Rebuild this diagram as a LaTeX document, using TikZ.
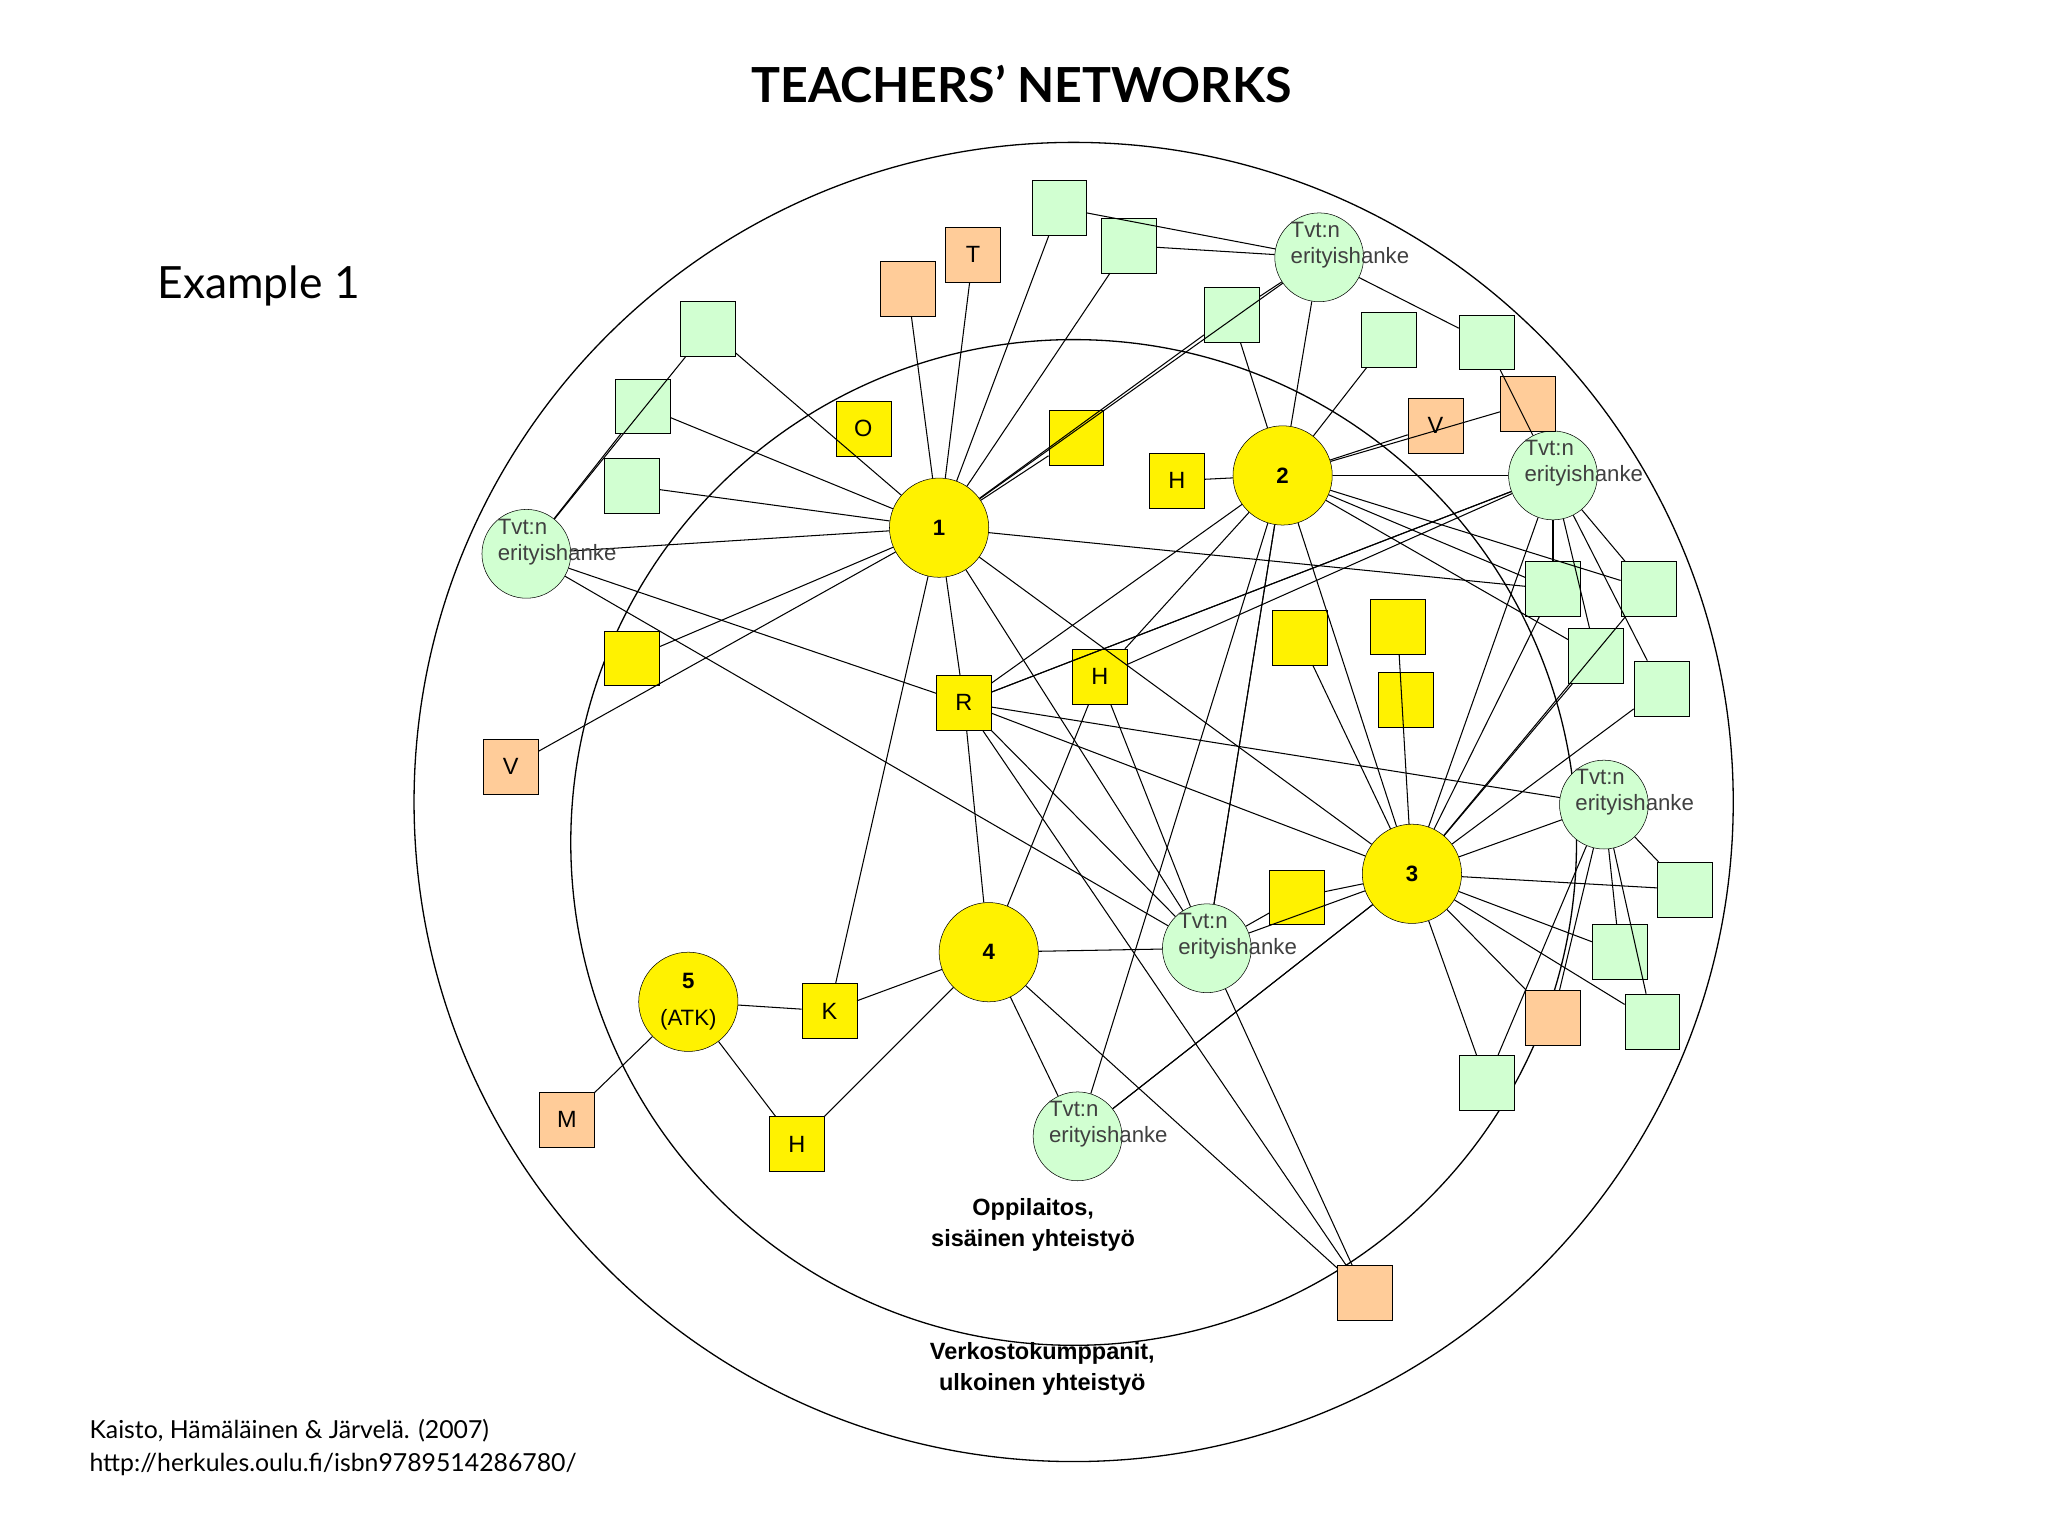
\documentclass[tikz,border=0pt]{standalone}
\usepackage{fontspec}
\setmainfont{Liberation Sans}
\newfontfamily\gill{Lato}
\begin{document}
\begin{tikzpicture}[x=1pt,y=-1pt,
 big/.style={circle,draw=black,fill=yellow,minimum size=76pt,inner sep=0pt,font=\fontsize{17}{19}\selectfont\bfseries},
 gc/.style={circle,draw=black,fill=green!18,minimum size=68pt,inner sep=0pt},
 sq/.style={rectangle,draw=black,minimum size=42pt,inner sep=0pt,font=\fontsize{18}{20}\selectfont},
 gs/.style={sq,fill=green!18},
 os/.style={sq,fill=orange!40},
 ys/.style={sq,fill=yellow},
 lab/.style={anchor=north west,align=left,inner sep=0pt,font=\fontsize{17}{20}\selectfont,text=black!75},
 ed/.style={draw=black,line width=0.8pt}]
\useasboundingbox (0,0) rectangle (1568,1176);
\fill[white] (0,0) rectangle (1568,1176);
\draw[line width=1pt] (822,614) circle (505);
\draw[line width=1pt] (822,645) circle (385);
\node[font=\gill\fontsize{37}{40}\selectfont\bfseries] at (782,64) {TEACHERS’ NETWORKS};
\node[anchor=west,font=\gill\fontsize{34}{36}\selectfont] at (117,219) {Example 1};
\node[anchor=north west,align=left,font=\gill\fontsize{19}{25}\selectfont] at (65,1083) {Kaisto, Hämäläinen \& Järvelä. (2007)\\http://herkules.oulu.fi/isbn9789514286780/};
\node[align=center,font=\fontsize{18}{24}\selectfont\bfseries] at (791,938) {Oppilaitos,\\sisäinen yhteistyö};
\node[align=center,font=\fontsize{18}{24}\selectfont\bfseries] at (798,1048) {Verkostokumppanit,\\ulkoinen yhteistyö};
% green circles
\node[gc] (g1) at (1010,197) {}; \node[gc] (g2) at (1189,364) {}; \node[gc] (g3) at (403,424) {};
\node[gc] (g4) at (1228,616) {}; \node[gc] (g5) at (924,726) {}; \node[gc] (g6) at (825,870) {};
% big
\node[big] (n1) at (719,404) {1}; \node[big] (n2) at (982,364) {2}; \node[big] (n3) at (1081,669) {3};
\node[big] (n4) at (757,729) {4};
\node[big,align=center,font=\fontsize{17}{28}\selectfont] (n5) at (527,767) {\textbf{5}\\(ATK)};
% squares
\node[gs] (s1) at (811,159) {}; \node[gs] (s2) at (864,188) {}; \node[gs] (s3) at (943,241) {};
\node[gs] (s4) at (1063,260) {}; \node[gs] (s5) at (1138,262) {}; \node[gs] (s6) at (542,252) {};
\node[gs] (s7) at (492,311) {}; \node[gs] (s8) at (484,372) {}; \node[gs] (s9) at (1189,451) {};
\node[gs] (s10) at (1262,451) {}; \node[gs] (s11) at (1222,502) {}; \node[gs] (s12) at (1272,527) {};
\node[gs] (s13) at (1290,681) {}; \node[gs] (s14) at (1240,729) {}; \node[gs] (s15) at (1265,782) {};
\node[gs] (s16) at (1138,829) {};
\node[os] (o1) at (695,221) {}; \node[os] (oT) at (745,195) {T}; \node[os] (o2) at (1170,309) {};
\node[os] (oV) at (1099,326) {V}; \node[os] (oV2) at (391,587) {V}; \node[os] (o3) at (1189,779) {};
\node[os] (oM) at (434,857) {M}; \node[os] (o4) at (1045,990) {};
\node[ys] (yO) at (661,328) {O}; \node[ys] (y1) at (824,335) {}; \node[ys] (yH1) at (901,368) {H};
\node[ys] (y2) at (484,504) {}; \node[ys] (y3) at (995,488) {}; \node[ys] (y4) at (1070,480) {};
\node[ys] (y5) at (1076,536) {}; \node[ys] (yR) at (738,538) {R}; \node[ys] (yH2) at (842,518) {H};
\node[ys] (y6) at (993,687) {}; \node[ys] (yK) at (635,774) {K}; \node[ys] (yH3) at (610,876) {H};
% edges
\foreach \a/\b in {n1/oT,n1/o1,n1/s1,n1/s2,n1/s3,n1/g1,n1/y1,n1/s6,n1/s7,n1/s8,n1/g3,n1/y2,n1/oV2,n1/yK,n1/yR,n1/n3,n1/g5,n1/s9,
 n2/s3,n2/g1,n2/s4,n2/o2,n2/oV,n2/g2,n2/yH1,n2/yR,n2/yH2,n2/g5,n2/n3,n2/s9,n2/s10,n2/s11,n2/g6,
 n3/g2,n3/s9,n3/s10,n3/s11,n3/s12,n3/g4,n3/y6,n3/g5,n3/g6,n3/s13,n3/s14,n3/s15,n3/s16,n3/o3,n3/y4,n3/y3,n3/yR,
 g2/yR,g2/s5,g2/s9,g2/s10,g2/s11,g2/s12,g2/yH2,g1/s5,g1/s3,g1/s2,g1/s1,
 g3/s6,g3/s7,g3/g5,g3/yR,
 n4/yK,n4/yH3,n4/yR,n4/g6,n4/o4,n4/yH2,n4/g5,
 n5/yK,n5/oM,n5/yH3,
 g4/s13,g4/s14,g4/s15,g4/o3,g4/s16,g4/yR,
 g5/yR,g5/o4,g5/yH2,g5/y6,g5/n2,
 yR/o4,yR/g2,g6/n3}
 {\path[ed] (\a) -- (\b);}
\foreach \n in {g1,g2,g3,g4,g5,g6}{\node[lab] at ([xshift=-22pt,yshift=27pt]\n) {Tvt:n\\erityishanke};}
\end{tikzpicture}
\end{document}
